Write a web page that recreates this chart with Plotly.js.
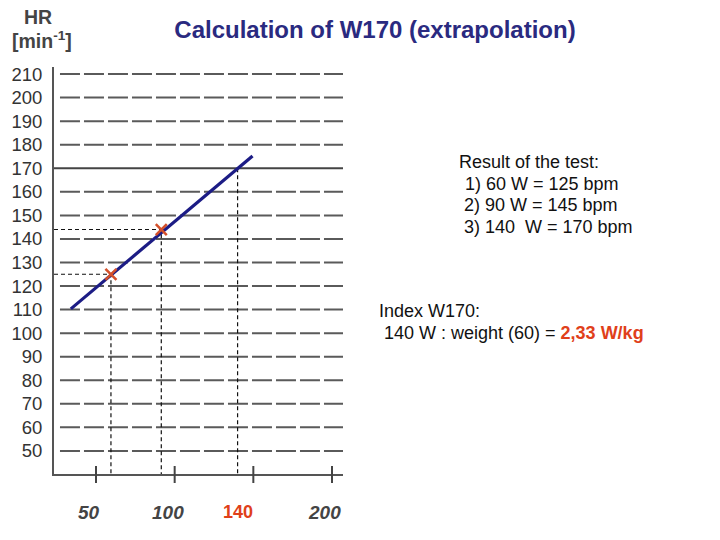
<!DOCTYPE html>
<html>
<head>
<meta charset="utf-8">
<script src="https://cdn.plot.ly/plotly-3.0.1.min.js"></script>
<style>html,body{margin:0;padding:0;background:#fff;}#chart{width:720px;height:540px;}</style>
</head>
<body>
<div id="chart"></div>
<script>
// ---- data ----
const hrTicks = [50, 60, 70, 80, 90, 100, 110, 120, 130, 140, 150, 160, 170, 180, 190, 200, 210];
const powerTicks = [50, 100, 150, 200];
const powerLabels = ['50', '100', '200'];
const powerLabelVals = [50, 100, 200];
const markedPower = 140;
const testPower = [59.5, 91.5];
const testHR = [125, 144];
const targetHR = 170;
const extrapPower = [34, 149.5];
const extrapHR = [110.3, 175.2];
const resultLines = ['Result of the test:', ' 1) 60 W = 125 bpm', ' 2) 90 W = 145 bpm', ' 3) 140  W = 170 bpm'];

// ---- layout helpers ----
const xRange = [23.3, 207];
const yRange = [40.2, 213];
const gridStart = 27.1;
const L = 54, R = 343, T = 67, B = 474;
const px = v => (v - L) / (R - L);
const py = v => (B - v) / (B - T);
const FONT = 'Arial, "Liberation Sans", sans-serif';

const traces = [];
testPower.forEach((p, i) => {
  traces.push({
    x: [xRange[0], p, p], y: [testHR[i], testHR[i], yRange[0]],
    mode: 'lines', line: {color: '#111', width: 1.2, dash: '4px,3px'},
    hoverinfo: 'skip', showlegend: false, cliponaxis: false
  });
});
traces.push({
  x: [markedPower, markedPower], y: [targetHR, yRange[0]],
  mode: 'lines', line: {color: '#111', width: 1.2, dash: '4px,3px'},
  hoverinfo: 'skip', showlegend: false
});
traces.push({
  x: [21.5, xRange[1]], y: [targetHR, targetHR],
  mode: 'lines', line: {color: '#444', width: 2},
  hoverinfo: 'skip', showlegend: false, cliponaxis: false
});
traces.push({
  x: extrapPower, y: extrapHR, mode: 'lines',
  line: {color: '#1c1c85', width: 3.2}, showlegend: false
});
traces.push({
  x: testPower, y: testHR, mode: 'markers',
  marker: {symbol: 'x-thin', size: 11, line: {color: '#d4502a', width: 2.5}},
  showlegend: false
});

// dashed HR grid (170 is drawn solid above)
const shapes = hrTicks.filter(v => v !== targetHR).map(v => ({
  type: 'line', xref: 'x', yref: 'y', x0: gridStart, x1: xRange[1], y0: v, y1: v,
  line: {color: '#5a5a5a', width: 2, dash: '20px,4px'}, layer: 'below'
}));
powerTicks.forEach(v => shapes.push({
  type: 'line', xref: 'x', yref: 'paper', x0: v, x1: v,
  y0: py(483), y1: py(466), line: {color: '#444', width: 2}
}));

const annotations = [];
powerLabelVals.forEach((v, i) => {
  annotations.push({
    xref: 'x', yref: 'paper', x: v, y: py(512), xshift: -7,
    text: '<b><i>' + powerLabels[i] + '</i></b>', showarrow: false,
    font: {family: FONT, size: 19, color: '#444'}, xanchor: 'center', yanchor: 'middle'
  });
});
annotations.push({
  xref: 'x', yref: 'paper', x: markedPower, y: py(512),
  text: '<b>' + markedPower + '</b>', showarrow: false,
  font: {family: FONT, size: 18, color: '#e0401a'}, xanchor: 'center', yanchor: 'middle'
});
annotations.push({
  xref: 'paper', yref: 'paper', x: px(38), y: py(16.5), text: '<b>HR</b>', showarrow: false,
  font: {family: FONT, size: 19.5, color: '#444'}, xanchor: 'center', yanchor: 'middle'
});
annotations.push({
  xref: 'paper', yref: 'paper', x: px(42), y: py(39.5), text: '<b>[min<sup>-1</sup>]</b>', showarrow: false,
  font: {family: FONT, size: 19.5, color: '#444'}, xanchor: 'center', yanchor: 'middle'
});
const resultY = [161.5, 183.5, 205, 227];
const resultX = [457, 458, 457, 457];
resultLines.forEach((t, i) => {
  annotations.push({
    xref: 'paper', yref: 'paper', x: px(resultX[i]), y: py(resultY[i]), text: t.replace(/ /g, '&nbsp;'),
    showarrow: false, font: {family: FONT, size: 18, color: '#111'}, xanchor: 'left', yanchor: 'middle'
  });
});
annotations.push({
  xref: 'paper', yref: 'paper', x: px(377), y: py(310.5), text: 'Index W170:',
  showarrow: false, font: {family: FONT, size: 18, color: '#111'}, xanchor: 'left', yanchor: 'middle'
});
annotations.push({
  xref: 'paper', yref: 'paper', x: px(377), y: py(332.5),
  text: '&nbsp;140 W : weight (60) = <b><span style="color:#e0401a">2,33 W/kg</span></b>',
  showarrow: false, font: {family: FONT, size: 18, color: '#111'}, xanchor: 'left', yanchor: 'middle'
});

const layout = {
  width: 720, height: 540,
  margin: {l: L, r: 720 - R, t: T, b: 540 - B, pad: 0},
  paper_bgcolor: '#fff', plot_bgcolor: '#fff',
  title: {text: '<b>Calculation of W170 (extrapolation)</b>', x: 375 / 720, xanchor: 'center',
          y: 1 - 30 / 540, yanchor: 'middle', font: {family: FONT, size: 24, color: '#2a2a80'}},
  xaxis: {range: xRange, showgrid: false, zeroline: false, showline: true, linecolor: '#555', linewidth: 2,
          showticklabels: false, ticks: '', fixedrange: true},
  yaxis: {range: yRange, tickvals: hrTicks, showgrid: false,
          zeroline: false, showline: true, linecolor: '#555', linewidth: 2,
          ticks: 'outside', ticklen: 6, tickcolor: 'rgba(0,0,0,0)',
          tickfont: {family: FONT, size: 18.5, color: '#333'}, fixedrange: true},
  shapes: shapes,
  annotations: annotations,
  showlegend: false
};

Plotly.newPlot('chart', traces, layout, {staticPlot: true});
</script>
</body>
</html>
